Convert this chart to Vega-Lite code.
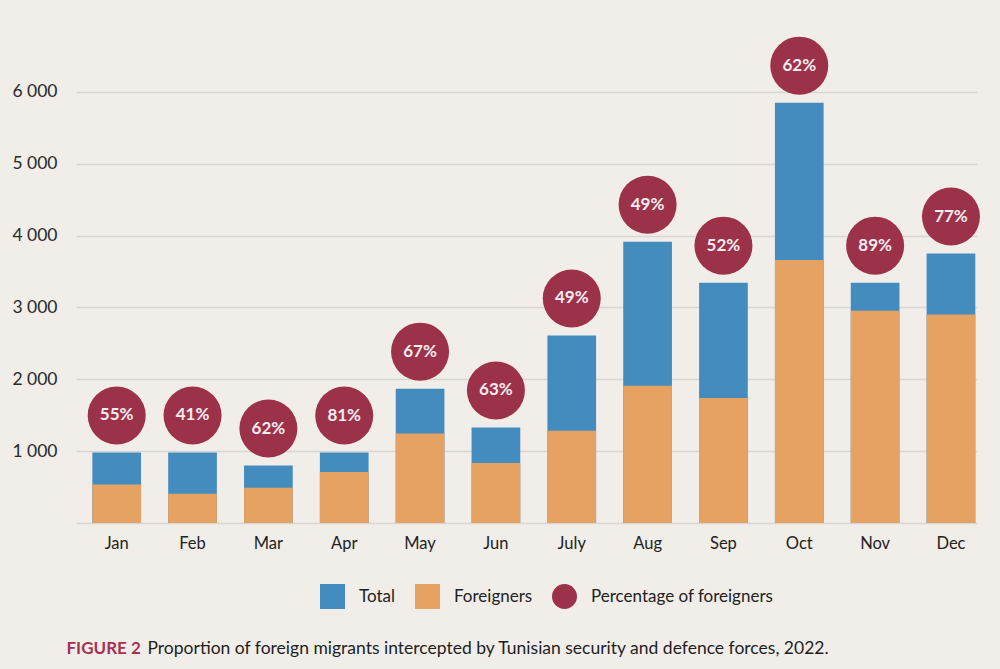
{
  "$schema": "https://vega.github.io/schema/vega-lite/v6.json",
  "width": 901,
  "height": 503,
  "autosize": {"type": "none"},
  "padding": {"left": 76, "top": 20, "right": 23, "bottom": 146},
  "background": "#f1eeea",
  "config": {
    "view": {"stroke": null},
    "font": "Lato",
    "axis": {"labelFont": "Lato", "titleFont": "Lato"},
    "legend": {"labelFont": "Lato"}
  },
  "data": {
    "values": [
      {"month": "Jan", "total": 982, "foreigners": 535, "pct": "55%"},
      {"month": "Feb", "total": 982, "foreigners": 408, "pct": "41%"},
      {"month": "Mar", "total": 800, "foreigners": 492, "pct": "62%"},
      {"month": "Apr", "total": 980, "foreigners": 710, "pct": "81%"},
      {"month": "May", "total": 1870, "foreigners": 1245, "pct": "67%"},
      {"month": "Jun", "total": 1330, "foreigners": 835, "pct": "63%"},
      {"month": "July", "total": 2610, "foreigners": 1285, "pct": "49%"},
      {"month": "Aug", "total": 3915, "foreigners": 1910, "pct": "49%"},
      {"month": "Sep", "total": 3345, "foreigners": 1740, "pct": "52%"},
      {"month": "Oct", "total": 5850, "foreigners": 3660, "pct": "62%"},
      {"month": "Nov", "total": 3345, "foreigners": 2955, "pct": "89%"},
      {"month": "Dec", "total": 3750, "foreigners": 2900, "pct": "77%"}
    ]
  },
  "encoding": {
    "x": {
      "field": "month",
      "type": "nominal",
      "sort": null,
      "scale": {"paddingInner": 0.358, "paddingOuter": 0.119, "align": 0.906},
      "axis": {
        "title": "Proportion of foreign migrants intercepted by Tunisian security and defence forces, 2022.",
        "titleX": 71,
        "titleY": 130,
        "titleAlign": "left",
        "titleAnchor": "start",
        "titleBaseline": "alphabetic",
        "titleFontSize": 17.5,
        "titleFontWeight": "normal",
        "titleColor": "#1e1e1e",
        "titleLimit": 900,
        "labelAngle": 0,
        "labelFontSize": 16.5,
        "labelColor": "#222222",
        "labelPadding": 12,
        "domain": false,
        "ticks": false
      }
    }
  },
  "layer": [
    {
      "mark": {"type": "bar"},
      "encoding": {
        "y": {
          "field": "total",
          "type": "quantitative",
          "scale": {"domain": [0, 7000], "nice": false},
          "axis": {
            "values": [0, 1000, 2000, 3000, 4000, 5000, 6000],
            "labelExpr": "datum.value == 0 ? '' : replace(format(datum.value, ','), ',', ' ')",
            "labelFontSize": 17.5,
            "labelColor": "#2a2a2a",
            "labelPadding": 19,
            "domain": false,
            "ticks": false,
            "gridColor": "#d9d5d0",
            "gridWidth": 1.3,
            "title": "FIGURE 2",
            "titleAngle": 0,
            "titleX": -10,
            "titleY": 633,
            "titleAlign": "left",
            "titleBaseline": "alphabetic",
            "titleFontSize": 17,
            "titleFontWeight": "bold",
            "titleColor": "#a83152"
          }
        },
        "color": {
          "datum": "Total",
          "scale": {
            "domain": ["Total", "Foreigners", "Percentage of foreigners"],
            "range": ["#438cbd", "#e5a262", "#9c324a"]
          },
          "legend": {
            "title": null,
            "orient": "none",
            "direction": "horizontal",
            "legendX": 244,
            "legendY": 564,
            "symbolSize": 625,
            "symbolStrokeWidth": 0,
            "symbolOpacity": 1,
            "labelFontSize": 17,
            "labelColor": "#222222",
            "labelOffset": 14,
            "labelLimit": 400,
            "columnPadding": 19,
            "padding": 0
          }
        }
      }
    },
    {
      "mark": {"type": "bar"},
      "encoding": {
        "y": {"field": "foreigners", "type": "quantitative"},
        "color": {"datum": "Foreigners"}
      }
    },
    {
      "mark": {"type": "point", "filled": true, "opacity": 1, "size": 3364, "strokeWidth": 0, "yOffset": -37},
      "encoding": {
        "y": {"field": "total", "type": "quantitative"},
        "color": {"datum": "Percentage of foreigners"},
        "shape": {
          "datum": "Percentage of foreigners",
          "scale": {
            "domain": ["Total", "Foreigners", "Percentage of foreigners"],
            "range": ["square", "square", "circle"]
          }
        }
      }
    },
    {
      "mark": {"type": "text", "yOffset": -37, "baseline": "middle", "align": "center", "fontSize": 17, "fontWeight": "bold", "color": "#f6ecef", "font": "Lato"},
      "encoding": {
        "y": {"field": "total", "type": "quantitative"},
        "text": {"field": "pct"}
      }
    }
  ]
}
